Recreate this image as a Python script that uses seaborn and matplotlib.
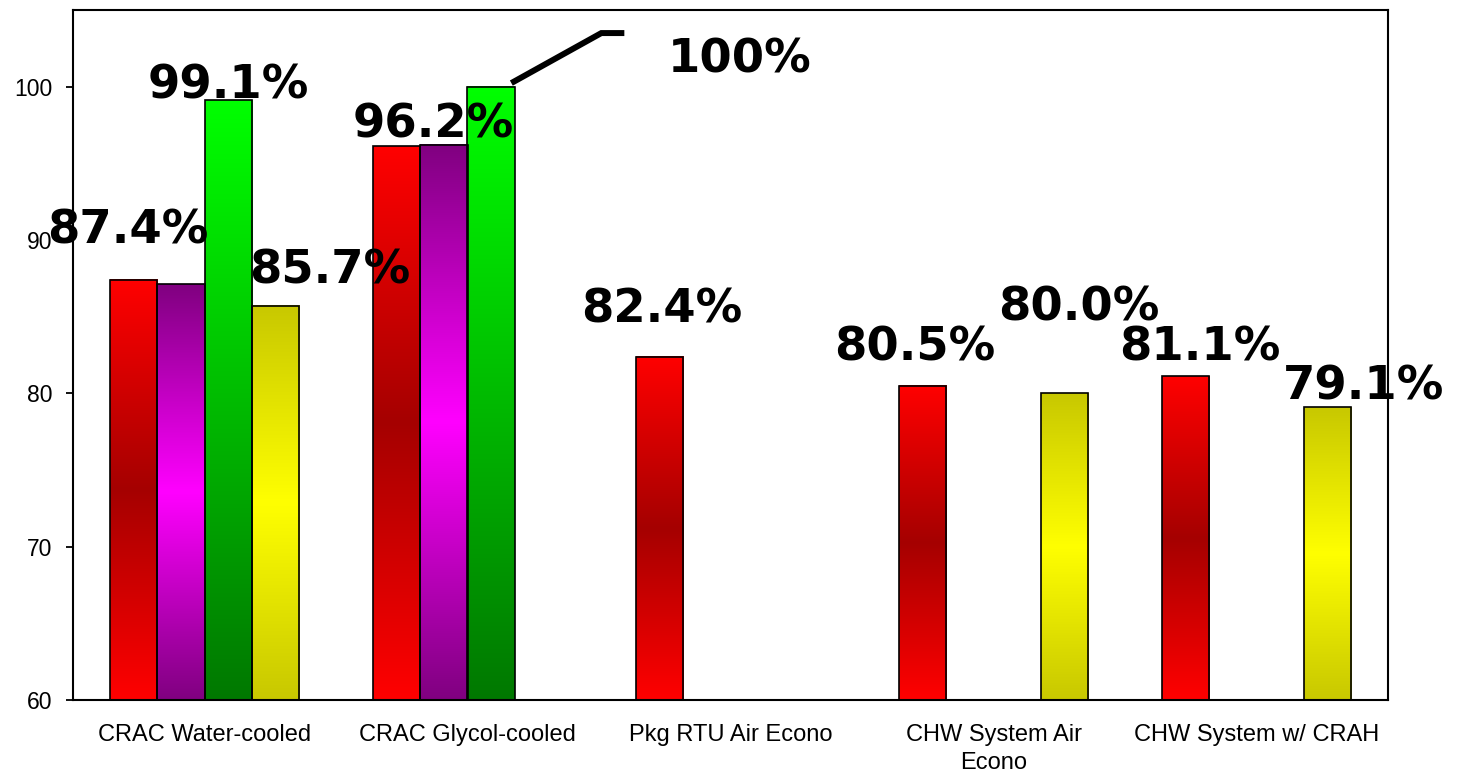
import numpy as np
import pandas as pd
import matplotlib
matplotlib.use("Agg")
import matplotlib.pyplot as plt
import seaborn as sns

# ---- data -------------------------------------------------------------
categories = [
    "CRAC Water-cooled",
    "CRAC Glycol-cooled",
    "Pkg RTU Air Econo",
    "CHW System Air\nEcono",
    "CHW System w/ CRAH",
]
series = ["Series 1", "Series 2", "Series 3", "Series 4"]
series_1 = [87.4, 96.1, 82.4, 80.5, 81.1]
series_2 = [87.1, 96.2, np.nan, np.nan, np.nan]
series_3 = [99.1, 100.0, np.nan, np.nan, np.nan]
series_4 = [85.7, np.nan, np.nan, 80.0, 79.1]
y_ticks = [60, 70, 80, 90, 100]

# labelled bars: (category index, series index, label text, dx px, dy px)
labels = [
    (0, 0, "87.4%", -6, 36),
    (0, 2, "99.1%", 0, 2),
    (0, 3, "85.7%", 54, 22),
    (1, 1, "96.2%", -11, 7),
    (2, 0, "82.4%", 2, 34),
    (3, 0, "80.5%", -8, 25),
    (3, 3, "80.0%", 14, 73),
    (4, 0, "81.1%", 14, 16),
    (4, 3, "79.1%", 36, 8),
]
callout = (1, 2, "100%")

# ---- styling ----------------------------------------------------------
sns.set_style("white")
plt.rcParams["font.family"] = ["Liberation Sans", "DejaVu Sans"]
plt.rcParams["text.color"] = "black"
plt.rcParams["xtick.color"] = "black"
plt.rcParams["ytick.color"] = "black"

# gradient stops per series: (kind, top/edge colour, centre/bottom colour)
gradients = [
    ("mirror", (255, 0, 0), (165, 0, 0)),
    ("mirror", (128, 0, 128), (255, 0, 255)),
    ("linear", (0, 255, 0), (0, 120, 0)),
    ("mirror", (200, 200, 0), (255, 255, 0)),
]
flat_colors = ["#ff0000", "#800080", "#00ff00", "#c8c800"]

rows = []
for s_name, vals in zip(series, [series_1, series_2, series_3, series_4]):
    for cat, v in zip(categories, vals):
        if not np.isnan(v):
            rows.append({"category": cat, "series": s_name, "value": v})
df = pd.DataFrame(rows)

W, H = 1458, 778
fig = plt.figure(figsize=(W / 100, H / 100), dpi=100)
ax = fig.add_axes([73 / W, 78 / H, (1388 - 73) / W, (700 - 10) / H])

sns.barplot(
    data=df, x="category", y="value", hue="series",
    order=categories, hue_order=series, palette=flat_colors,
    width=0.72, gap=0, edgecolor="black", linewidth=1.2,
    errorbar=None, legend=False, ax=ax,
)

ymin, ymax = 60, 105


def gradient_image(kind, c1, c2, n=256):
    t = np.linspace(0, 1, n)[:, None]
    c1 = np.array(c1) / 255.0
    c2 = np.array(c2) / 255.0
    if kind == "mirror":
        w = 1 - np.abs(2 * t - 1)
    else:
        w = t
    img = c1[None, :] * (1 - w) + c2[None, :] * w
    return img[:, None, :]


bars = {}
for s_idx, cont in enumerate(ax.containers):
    kind, c1, c2 = gradients[s_idx]
    img = gradient_image(kind, c1, c2)
    for patch in cont.patches:
        x0, w, h = patch.get_x(), patch.get_width(), patch.get_height()
        if not np.isfinite(h):
            continue
        cat_idx = int(round(x0 + w / 2))
        bars[(cat_idx, s_idx)] = patch
        ax.imshow(img, extent=[x0, x0 + w, ymin, h], aspect="auto",
                  origin="upper", interpolation="bilinear", zorder=1.5)
        patch.set_facecolor("none")
        patch.set_zorder(2)

ax.set_xlim(-0.5, len(categories) - 0.5)
ax.set_ylim(ymin, ymax)
ax.set_yticks(y_ticks)
ax.set_xlabel("")
ax.set_ylabel("")

label_font = dict(family="DejaVu Sans", weight="bold", size=33.5, color="black")
for c_idx, s_idx, text, dx, dy in labels:
    p = bars[(c_idx, s_idx)]
    ax.annotate(text, xy=(p.get_x() + p.get_width() / 2, p.get_height()),
                xytext=(dx, dy), textcoords="offset pixels",
                ha="center", va="baseline", zorder=5, annotation_clip=False,
                **label_font)

# callout with leader line
c_idx, s_idx, text = callout
p = bars[(c_idx, s_idx)]
right, top = p.get_x() + p.get_width(), p.get_height()
base = ax.transData.transform((right, top))
pts_px = np.array([[-3.5, 3.6], [86.5, 53.6], [109.5, 53.6]]) + base
pts = ax.transData.inverted().transform(pts_px)
ax.plot(pts[:, 0], pts[:, 1], color="black", lw=4.3, solid_capstyle="butt",
        solid_joinstyle="miter", zorder=5, clip_on=False)
ax.annotate(text, xy=(p.get_x() + p.get_width() / 2, top),
            xytext=(249, 14), textcoords="offset pixels",
            ha="center", va="baseline", zorder=5, annotation_clip=False,
            **label_font)

ax.set_xlim(-0.5, len(categories) - 0.5)
ax.set_ylim(ymin, ymax)
ax.tick_params(axis="y", which="both", left=True, length=5, width=1.3,
               direction="out", pad=10, labelsize=16.5, color="black",
               labelcolor="black")
ax.tick_params(axis="x", length=0, pad=17, labelsize=17, labelcolor="black")
for lbl in ax.get_xticklabels():
    lbl.set_linespacing(1.4)
for sp in ax.spines.values():
    sp.set_visible(True)
    sp.set_color("black")
    sp.set_linewidth(1.5)
    sp.set_zorder(4)

fig.savefig("out.png", dpi=100, facecolor="white")
